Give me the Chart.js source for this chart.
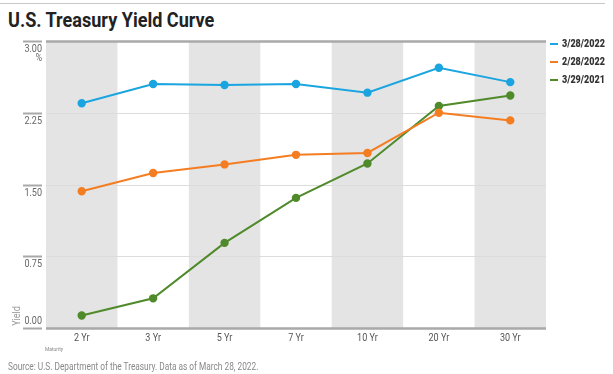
<!DOCTYPE html>
<html lang="en">
<head>
  <meta charset="UTF-8">
  <title>U.S. Treasury Yield Curve</title>
  <style>
    body {
      margin: 0;
      background: #fff;
      font-family: "Roboto", sans-serif;
    }
    .wrap {
      position: relative;
      width: 613px;
      height: 374px;
      overflow: hidden;
    }
    .topline {
      position: absolute;
      left: 0; top: 3px;
      width: 605px; height: 1px;
      background: #c8c8c8;
    }
    h1 {
      position: absolute;
      left: 8px; top: 8px;
      margin: 0;
      font-size: 21px;
      font-weight: bold;
      color: #222;
      white-space: nowrap;
      transform: scaleX(0.86);
      transform-origin: left top;
    }
    canvas { position: absolute; left: 0; top: 0; }
    .legend {
      position: absolute;
      left: 550px; top: 37px;
      font-size: 11px;
      font-weight: bold;
      color: #333;
      white-space: nowrap;
    }
    .legend div { height: 18px; line-height: 14px; }
    .legend span {
      display: inline-block;
      width: 8px; height: 2px;
      margin-right: 4px;
      vertical-align: middle;
    }
    .legend b {
      display: inline-block;
      transform: scaleX(0.82);
      transform-origin: left center;
    }
    .source {
      position: absolute;
      left: 8px; top: 360px;
      font-size: 10.5px;
      color: #888;
      white-space: nowrap;
      transform: scaleX(0.79);
      transform-origin: left top;
    }
  </style>
  <script src="https://cdn.jsdelivr.net/npm/chart.js"></script>
</head>
<body>
<div class="wrap">
  <div class="topline"></div>
  <h1>U.S. Treasury Yield Curve</h1>
  <canvas id="yieldChart" width="613" height="374"></canvas>
  <div class="legend" id="legend"></div>
  <div class="source">Source: U.S. Department of the Treasury. Data as of March 28, 2022.</div>
</div>
<script>
  const maturities = ['2 Yr', '3 Yr', '5 Yr', '7 Yr', '10 Yr', '20 Yr', '30 Yr'];
  const yields20220328 = [2.35, 2.55, 2.54, 2.55, 2.46, 2.72, 2.57];
  const yields20220228 = [1.43, 1.62, 1.71, 1.81, 1.83, 2.25, 2.17];
  const yields20210329 = [0.13, 0.31, 0.89, 1.36, 1.72, 2.32, 2.43];
  const yTicks = [0, 0.75, 1.5, 2.25, 3];
  const seriesLabels = ['3/28/2022', '2/28/2022', '3/29/2021'];
  const seriesColors = ['#1aa5e0', '#f47d22', '#4f8a2b'];

  const FONT = '"Roboto", sans-serif';

  // condensed-looking text on the canvas
  function narrowText(ctx, t, px, py, sx) {
    ctx.save();
    ctx.translate(px, py);
    ctx.scale(sx || 0.82, 1);
    ctx.fillText(t, 0, 0);
    ctx.restore();
  }

  // bands, gridlines, axis labels drawn off the chart's own scales
  const backdrop = {
    id: 'backdrop',
    beforeDatasetsDraw(chart) {
      const { ctx, chartArea: a, scales: { x, y } } = chart;
      const w = a.width / maturities.length;
      ctx.save();
      ctx.fillStyle = '#e4e4e4';
      maturities.forEach((m, i) => {
        if (i % 2 === 0) {
          const cx = x.getPixelForValue(i);
          ctx.fillRect(cx - w / 2, a.top, w, a.bottom - a.top);
        }
      });
      yTicks.forEach(v => {
        const py = Math.round(y.getPixelForValue(v));
        const edge = v === 0 || v === 3;
        ctx.strokeStyle = edge ? '#a9a9a9' : '#dcdcdc';
        ctx.lineWidth = edge ? 2.5 : 1;
        ctx.beginPath();
        ctx.moveTo(a.left, py + 0.5);
        ctx.lineTo(a.right, py + 0.5);
        ctx.stroke();
        ctx.strokeStyle = '#a9a9a9';
        ctx.lineWidth = 2;
        ctx.beginPath();
        ctx.moveTo(23, py + 0.5);
        ctx.lineTo(42, py + 0.5);
        ctx.stroke();
        ctx.fillStyle = '#666';
        ctx.font = '11px ' + FONT;
        ctx.textAlign = 'right';
        ctx.textBaseline = 'middle';
        narrowText(ctx, v.toFixed(2), 42, v === 0 ? py - 7 : py + 8);
      });
      narrowText(ctx, '%', 42, y.getPixelForValue(3) + 17);
      ctx.textAlign = 'center';
      ctx.textBaseline = 'middle';
      ctx.fillStyle = '#555';
      maturities.forEach((m, i) => {
        narrowText(ctx, m, x.getPixelForValue(i), a.bottom + 10);
      });
      ctx.font = '6px ' + FONT;
      ctx.fillStyle = '#888';
      ctx.textAlign = 'left';
      narrowText(ctx, 'Maturity', 45, a.bottom + 21);
      ctx.translate(17, a.bottom - 12);
      ctx.rotate(-Math.PI / 2);
      ctx.font = '11px ' + FONT;
      ctx.fillStyle = '#999';
      ctx.textAlign = 'center';
      narrowText(ctx, 'Yield', 0, 0);
      ctx.restore();
    }
  };

  const allSeries = [yields20220328, yields20220228, yields20210329];

  new Chart(document.getElementById('yieldChart'), {
    type: 'line',
    data: {
      labels: maturities,
      datasets: allSeries.map((d, i) => ({
        label: seriesLabels[i],
        data: d,
        borderColor: seriesColors[i],
        backgroundColor: seriesColors[i],
        borderWidth: 2,
        pointRadius: 3.2,
        pointHoverRadius: 3.2,
        tension: 0,
        clip: false
      }))
    },
    options: {
      responsive: false,
      animation: false,
      layout: { padding: { left: 46, right: 67, top: 41, bottom: 46 } },
      plugins: { legend: { display: false }, tooltip: { enabled: false } },
      scales: {
        x: { display: false, offset: true },
        y: { display: false, min: 0, max: 3 }
      }
    },
    plugins: [backdrop]
  });

  const legend = document.getElementById('legend');
  seriesLabels.forEach((l, i) => {
    const row = document.createElement('div');
    row.innerHTML = '<span style="background:' + seriesColors[i] + '"></span><b>' + l + '</b>';
    legend.appendChild(row);
  });
</script>
</body>
</html>
